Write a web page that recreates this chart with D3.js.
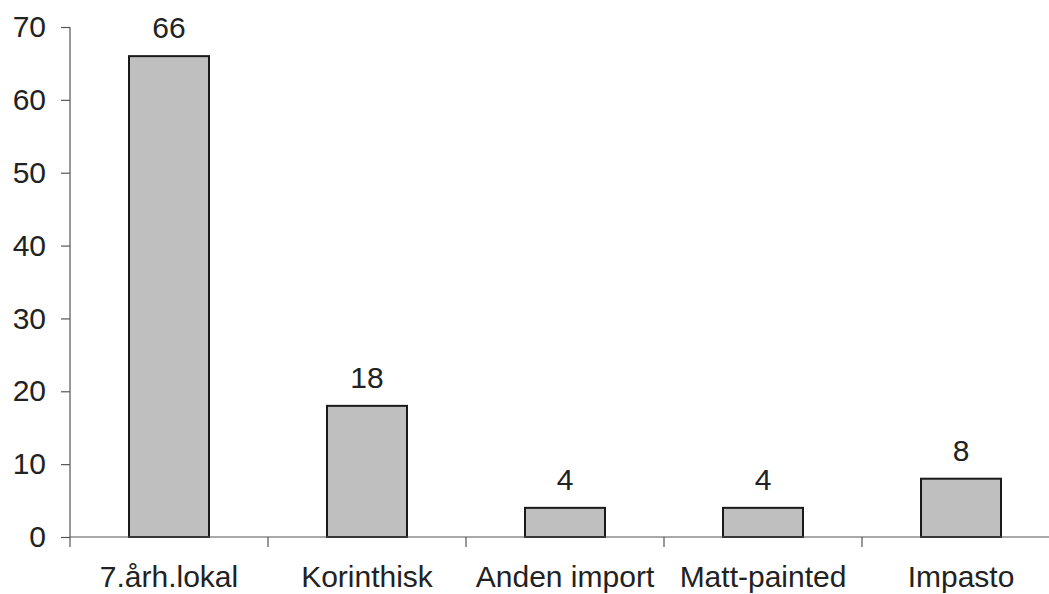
<!DOCTYPE html>
<html>
<head>
<meta charset="utf-8">
<script src="https://cdn.jsdelivr.net/npm/d3@7"></script>
<style>
  html, body { margin: 0; padding: 0; background: #ffffff; }
  svg { display: block; }
</style>
</head>
<body>
<svg id="chart" width="1049" height="594"></svg>
<script>
const categories = ["7.årh.lokal", "Korinthisk", "Anden import", "Matt-painted", "Impasto"];
const values = [66, 18, 4, 4, 8];
const valueLabels = ["66", "18", "4", "4", "8"];
const yTicks = [0, 10, 20, 30, 40, 50, 60, 70];

const svg = d3.select("#chart");
const font = "'Liberation Sans', Arial, sans-serif";
const textColor = "#222222";
const fs = 30;

const x = d3.scaleBand().domain(categories).range([70, 1060])
  .paddingInner(0.596).paddingOuter(0.298);
const y = d3.scaleLinear().domain([0, 70]).range([537, 27]);

// Bars
svg.append("g").selectAll("rect").data(values).join("rect")
  .attr("x", (d, i) => x(categories[i]))
  .attr("y", d => y(d))
  .attr("width", x.bandwidth())
  .attr("height", d => y(0) - y(d))
  .attr("fill", "#bfbfbf")
  .attr("stroke", "#1a1a1a")
  .attr("stroke-width", 2);

// Value labels
svg.append("g").selectAll("text").data(values).join("text")
  .attr("x", (d, i) => x(categories[i]) + x.bandwidth() / 2)
  .attr("y", d => y(d) - 18)
  .attr("text-anchor", "middle")
  .attr("font-family", font)
  .attr("font-size", fs)
  .attr("fill", textColor)
  .text((d, i) => valueLabels[i]);

// Y axis
const yAxis = svg.append("g").attr("transform", "translate(70,0)")
  .call(d3.axisLeft(y).tickValues(yTicks).tickSize(9).tickPadding(15).tickFormat(d3.format("d")));
yAxis.select(".domain").attr("stroke", "#555").attr("stroke-width", 1.2).attr("d", "M0," + y(0) + "V" + y(70));
yAxis.selectAll(".tick line").attr("stroke", "#555").attr("stroke-width", 1.2);
yAxis.selectAll(".tick text").attr("font-family", font).attr("font-size", fs).attr("fill", textColor);

// X axis
const xAxis = svg.append("g").attr("transform", "translate(0," + y(0) + ")")
  .call(d3.axisBottom(x).tickSize(0));
xAxis.select(".domain").attr("stroke", "#555").attr("stroke-width", 1.2).attr("d", "M70,0H1060");
xAxis.selectAll(".tick text")
  .attr("y", 50).attr("dy", null)
  .attr("font-family", font).attr("font-size", fs).attr("fill", textColor);

// Category boundary tick marks
const step = x.step();
const boundaries = d3.range(categories.length + 1).map(i => 70 + i * step);
svg.append("g").selectAll("line").data(boundaries).join("line")
  .attr("x1", d => d).attr("x2", d => d)
  .attr("y1", y(0)).attr("y2", y(0) + 10)
  .attr("stroke", "#555").attr("stroke-width", 1.2);
</script>
</body>
</html>
